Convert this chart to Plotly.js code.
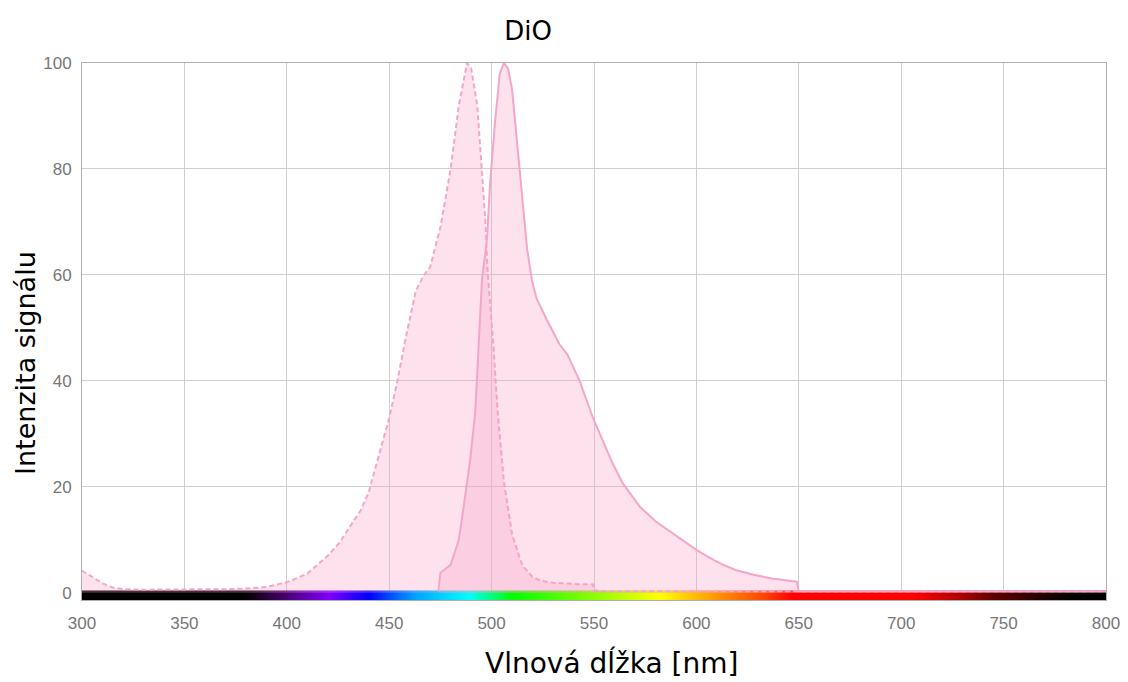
<!DOCTYPE html>
<html>
<head>
<meta charset="utf-8">
<script src="https://cdn.plot.ly/plotly-3.0.1.min.js"></script>
<style>html,body{margin:0;padding:0;background:#fff;}#chart{width:1128px;height:682px;}</style>
</head>
<body>
<div id="chart"></div>
<script>
// Excitation spectrum (dashed)
const excitationNm = [300,305,310,315,320,330,340,350,360,370,380,390,400,410,420,426,430,436,440,445,450,454,458,463,467,470,475,480,484,488,490,493,495,497,498,501,503,506,510,515,520,524,530,537,545,549.5,550,560,600,650,700,750,800];
const excitationVal = [4.2,3.0,1.8,1.0,0.7,0.6,0.6,0.6,0.6,0.7,0.8,1.1,2.0,3.6,7.0,9.6,12,15.5,19,26,33,40,48,57,60,61.5,69,80,92,100,99,92,81,70,61,46,34,21,11,5.2,3.0,2.3,1.9,1.7,1.6,1.6,0.4,0.3,0.3,0.3,0.3,0.3,0.3];

// Emission spectrum (solid)
const emissionNm = [474,475,480,484,487,489.5,492,493.5,495.3,497.8,499.2,501.7,504,506,508,510,512.4,514.8,517.3,519.7,522,527,533,537,543,549.5,555,559,564,568,572.5,580,586,593,600,607,613,620,628,637,649,650,700,750,800];
const emissionVal = [0.3,3.8,5.3,10,18,25,34,46,59,67,77,89,98,100,99,95,85.5,75,65,59,55.5,51.5,47,45,40,33,28,24.5,20.7,18.5,16.2,13.5,11.9,10,8.1,6.5,5.3,4.2,3.4,2.7,2.1,0.3,0.3,0.3,0.3];

// Visible spectrum colour bar stops
const spectrumStopNm = [300,380,397,421,440,462,489,510,556,582,607,634,647,705,724,745,770,786,800];
const spectrumStopColor = ['#000000','#000000','#400060','#8000ff','#0000ff','#00a0ff','#00ffff','#00ff00','#a0ff00','#ffff00','#ffa000','#ff4000','#ff0000','#ff0000','#c00000','#600000','#200000','#000000','#000000'];

// Axis ticks
const xTickVals = [300,350,400,450,500,550,600,650,700,750,800];
const yTickVals = [0,20,40,60,80,100];

const colorscale = spectrumStopNm.map((nm, i) => [(nm - 300) / 500, spectrumStopColor[i]]);
const barEdges = [];
for (let nm = 300; nm <= 800; nm += 1) barEdges.push(nm);
const barZ = [barEdges.slice(0, -1).map(v => v + 0.5)];

const lineColor = '#f4a6ca';
const fillColor = 'rgba(249,160,200,0.30)';

const traces = [
  {
    type: 'heatmap', x: barEdges, y: [-1.35, 0.45], z: barZ,
    colorscale: colorscale, zmin: 300, zmax: 800, showscale: false,
    hoverinfo: 'skip', zsmooth: false
  },
  {
    type: 'scatter', mode: 'lines', name: 'Excitácia',
    x: excitationNm, y: excitationVal, fill: 'tozeroy', fillcolor: fillColor,
    line: {color: lineColor, width: 2, dash: '5px,3px'}
  },
  {
    type: 'scatter', mode: 'lines', name: 'Emisia',
    x: emissionNm, y: emissionVal, fill: 'tozeroy', fillcolor: fillColor,
    line: {color: lineColor, width: 2}
  }
];

const layout = {
  width: 1128, height: 682,
  margin: {l: 82, r: 22, t: 63, b: 82},
  paper_bgcolor: '#ffffff', plot_bgcolor: '#ffffff',
  showlegend: false,
  title: {
    text: 'DiO', x: 528 / 1128, xref: 'container', xanchor: 'center',
    y: 1 - 31 / 682, yref: 'container', yanchor: 'middle',
    font: {family: 'DejaVu Sans', size: 26, color: '#000000'}
  },
  xaxis: {
    range: [300, 800], tickvals: xTickVals, ticktext: xTickVals.map(String),
    showgrid: true, gridcolor: '#cfcfcf', gridwidth: 1, zeroline: false,
    showline: true, linecolor: '#b0b0b0', mirror: true, ticks: '',
    ticklabelstandoff: 8,
    tickfont: {family: 'Liberation Sans, Arial', size: 17, color: '#777777'}
  },
  yaxis: {
    range: [-1.35, 100], tickvals: yTickVals, ticktext: yTickVals.map(String),
    showgrid: true, gridcolor: '#cfcfcf', gridwidth: 1, zeroline: false,
    showline: true, linecolor: '#b0b0b0', mirror: true, ticks: '',
    ticklabelstandoff: 6,
    tickfont: {family: 'Liberation Sans, Arial', size: 17, color: '#777777'}
  },
  annotations: [
    {
      text: 'Vlnová dĺžka [nm]', xref: 'paper', yref: 'paper',
      x: (611 - 82) / 1024, y: (600 - 663) / 537, xanchor: 'center', yanchor: 'middle',
      showarrow: false, font: {family: 'DejaVu Sans', size: 28, color: '#000000'}
    },
    {
      text: 'Intenzita signálu', xref: 'paper', yref: 'paper', textangle: -90,
      x: (25 - 82) / 1024, y: (600 - 363) / 537, xanchor: 'center', yanchor: 'middle',
      showarrow: false, font: {family: 'DejaVu Sans', size: 27, color: '#000000'}
    }
  ]
};

Plotly.newPlot('chart', traces, layout, {displayModeBar: false, staticPlot: true});
</script>
</body>
</html>
